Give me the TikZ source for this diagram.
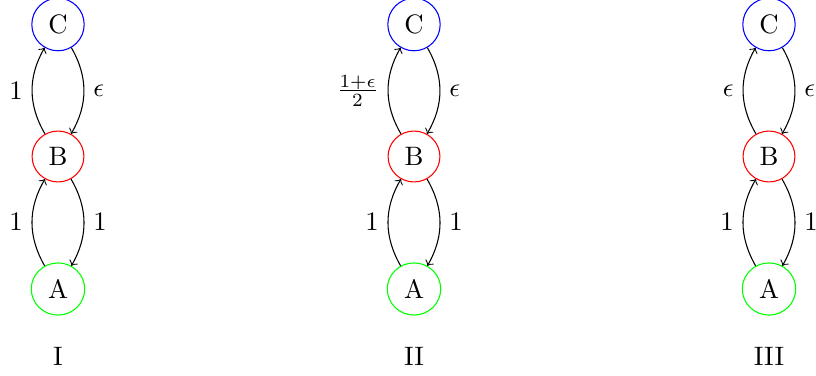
\documentclass[tikz,border=0pt]{standalone}
\usetikzlibrary{shapes.geometric}
\begin{document}
\begin{tikzpicture}[x=0.375pt,y=-0.375pt,
  state/.style={ellipse,draw},
  arr/.style={->}]
\useasboundingbox (0,0) rectangle (816,376);
\foreach \cx/\nm in {58/I,414/II,769/III}{
  \node[state,blue] (C\nm) at (\cx,24.5) {\textcolor{black}{C}};
  \node[state,red] (B\nm) at (\cx,156.5) {\textcolor{black}{B}};
  \node[state,green] (A\nm) at (\cx,289) {\textcolor{black}{A}};
  \node (L\nm) at (\cx,356) {\nm};
}
% I
\draw[arr] (BI) to[bend left] node[left] {$1$} (CI);
\draw[arr] (CI) to[bend left] node[right] {$\epsilon$} (BI);
\draw[arr] (AI) to[bend left] node[left] {$1$} (BI);
\draw[arr] (BI) to[bend left] node[right] {$1$} (AI);
% II
\draw[arr] (BII) to[bend left] node[left] {$\frac{1+\epsilon}{2}$} (CII);
\draw[arr] (CII) to[bend left] node[right] {$\epsilon$} (BII);
\draw[arr] (AII) to[bend left] node[left] {$1$} (BII);
\draw[arr] (BII) to[bend left] node[right] {$1$} (AII);
% III
\draw[arr] (BIII) to[bend left] node[left] {$\epsilon$} (CIII);
\draw[arr] (CIII) to[bend left] node[right] {$\epsilon$} (BIII);
\draw[arr] (AIII) to[bend left] node[left] {$1$} (BIII);
\draw[arr] (BIII) to[bend left] node[right] {$1$} (AIII);
\end{tikzpicture}
\end{document}
